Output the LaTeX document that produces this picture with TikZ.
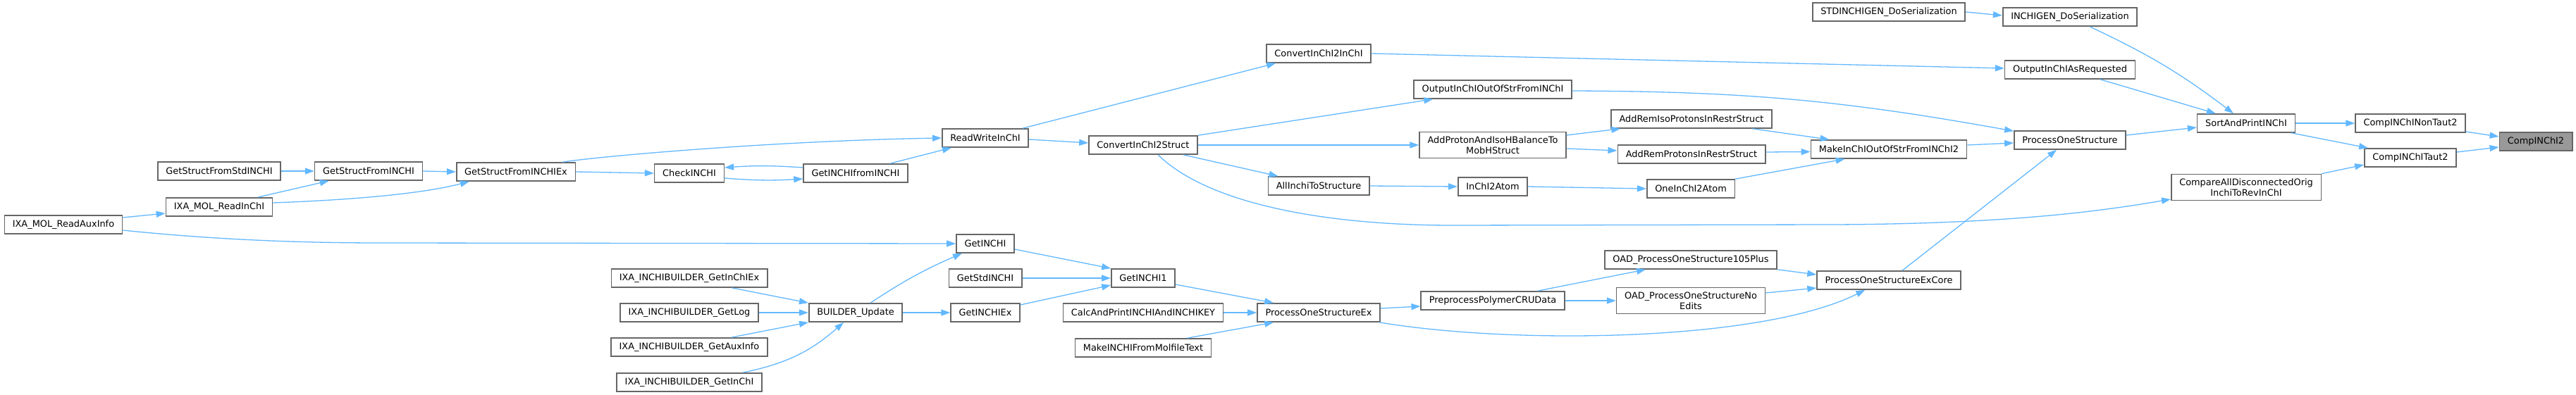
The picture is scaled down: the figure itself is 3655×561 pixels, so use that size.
\documentclass[tikz,border=0pt]{standalone}
\usepackage{fontspec}
\setmainfont{DejaVu Sans}
\usetikzlibrary{arrows.meta}
\definecolor{lienbleu}{HTML}{63B8FF}
\definecolor{bordgris}{HTML}{666666}
\definecolor{fondgris}{HTML}{999999}
\begin{document}
\begin{tikzpicture}  % ------ Graphe des appelants de CompINChI2 --------
      [x=1pt,y=-1pt,
       fonc/.style={draw=bordgris, line width=1.6pt, fill=white, inner xsep=11.5pt, inner ysep=6pt,
                    minimum height=26pt, align=center, font=\fontsize{12.9}{15}\selectfont},
       foncgris/.style={fonc, fill=fondgris},
       appel/.style={draw=lienbleu, line width=1.3pt, -{Triangle[length=13pt,width=9pt]}}]

    \useasboundingbox (0,0) rectangle (3655,561);

    % colonnes de gauche
    \node[fonc] (aux)    at (90,319)   {IXA\_MOL\_ReadAuxInfo};
    \node[fonc] (sstd)   at (311,243)  {GetStructFromStdINCHI};
    \node[fonc] (rin)    at (311,294)  {IXA\_MOL\_ReadInChI};
    \node[fonc] (sinchi) at (523,243)  {GetStructFromINCHI};
    \node[fonc] (ex)     at (732,244)  {GetStructFromINCHIEx};
    \node[fonc] (check)  at (978,246)  {CheckINCHI};
    \node[fonc] (bex)    at (978,395)  {IXA\_INCHIBUILDER\_GetInChIEx};
    \node[fonc] (blog)   at (978,444)  {IXA\_INCHIBUILDER\_GetLog};
    \node[fonc] (baux)   at (978,493)  {IXA\_INCHIBUILDER\_GetAuxInfo};
    \node[fonc] (bin)    at (978,543)  {IXA\_INCHIBUILDER\_GetInChI};
    \node[fonc] (gif)    at (1214,246) {GetINCHIfromINCHI};
    \node[fonc] (bu)     at (1214,444) {BUILDER\_Update};
    \node[fonc] (rw)     at (1398,196) {ReadWriteInChI};
    \node[fonc] (getinchi) at (1398,346) {GetINCHI};
    \node[fonc] (gstd)   at (1398,395) {GetStdINCHI};
    \node[fonc] (gex)    at (1398,444) {GetINCHIEx};
    \node[fonc] (cis)    at (1622,206) {ConvertInChI2Struct};
    \node[fonc] (g1)     at (1622,395) {GetINCHI1};
    \node[fonc] (calc)   at (1622,444) {CalcAndPrintINCHIAndINCHIKEY};
    \node[fonc] (mk)     at (1622,494) {MakeINCHIFromMolfileText};

    % colonnes du milieu
    \node[fonc] (c2i)      at (1871,76)  {ConvertInChI2InChI};
    \node[fonc] (allinchi) at (1871,264) {AllInchiToStructure};
    \node[fonc] (exex)     at (1871,444) {ProcessOneStructureEx};
    \node[fonc] (outstr)   at (2118,127) {OutputInChIOutOfStrFromINChI};
    \node[fonc] (addp)     at (2118,206) {AddProtonAndIsoHBalanceTo\\MobHStruct};
    \node[fonc] (i2a)      at (2118,265) {InChI2Atom};
    \node[fonc] (pre)      at (2118,427) {PreprocessPolymerCRUData};
    \node[fonc] (iso)      at (2400,169) {AddRemIsoProtonsInRestrStruct};
    \node[fonc] (rem)      at (2400,219) {AddRemProtonsInRestrStruct};
    \node[fonc] (one)      at (2399,268) {OneInChI2Atom};
    \node[fonc] (oad105)   at (2399,369) {OAD\_ProcessOneStructure105Plus};
    \node[fonc] (noed)     at (2399,427) {OAD\_ProcessOneStructureNo\\Edits};

    % colonnes de droite
    \node[fonc] (stdgen)   at (2680,17)  {STDINCHIGEN\_DoSerialization};
    \node[fonc] (makeb)    at (2680,212) {MakeInChIOutOfStrFromINChI2};
    \node[fonc] (excore)   at (2680,398) {ProcessOneStructureExCore};
    \node[fonc] (inchigen) at (2937,24)  {INCHIGEN\_DoSerialization};
    \node[fonc] (outreq)   at (2937,99)  {OutputInChIAsRequested};
    \node[fonc] (pos)      at (2937,199) {ProcessOneStructure};
    \node[fonc] (sort)     at (3187,175) {SortAndPrintINChI};
    \node[fonc] (cmp)      at (3187,266) {CompareAllDisconnectedOrig\\InchiToRevInChI};
    \node[fonc] (nontaut)  at (3420,175) {CompINChINonTaut2};
    \node[fonc] (taut)     at (3420,224) {CompINChITaut2};
    \node[foncgris] (comp) at (3598,201) {CompINChI2};

    % appels, partie gauche
    \draw[appel] ([yshift=10pt]aux.east) -- ([yshift=-9pt]rin.west);
    \draw[appel] ([yshift=-8pt]aux.east) .. controls (300,340) and (420,345) .. (540,345) -- (getinchi.west);
    \draw[appel] (sstd.east) -- (sinchi.west);
    \draw[appel] ([xshift=-22pt]rin.north east) -- ([xshift=21pt]sinchi.south west);
    \draw[appel] ([yshift=6pt]rin.east) .. controls (500,284) and (600,275) .. ([xshift=19pt]ex.south west);
    \draw[appel] (sinchi.east) -- (ex.west);
    \draw[appel] (ex.east) -- (check.west);
    \draw[appel] ([xshift=-19pt]ex.north east) .. controls (850,222) and (1100,200) .. (rw.west);
    \draw[appel] ([yshift=-7pt]check.east) to[bend right=4] ([yshift=-8pt]gif.west);
    \draw[appel] ([yshift=8pt]gif.west) to[bend right=4] ([yshift=8pt]check.east);
    \draw[appel] ([xshift=-26pt]gif.north east) -- ([xshift=14pt]rw.south west);
    \draw[appel] ([xshift=-51pt]bex.south east) -- (bu.north west);
    \draw[appel] (blog.east) -- (bu.west);
    \draw[appel] ([xshift=-52pt]baux.north east) -- (bu.south west);
    \draw[appel] ([xshift=-28pt]bin.north east) to[bend right=15] ([xshift=50pt]bu.south west);
    \draw[appel] ([xshift=21pt]bu.north) to[bend left=5] ([xshift=-33pt]getinchi.south);
    \draw[appel] (bu.east) -- (gex.west);
    \draw[appel] ([yshift=-8pt]getinchi.east) -- (g1.north west);
    \draw[appel] (gstd.east) -- (g1.west);
    \draw[appel] ([yshift=11pt]gex.east) -- ([yshift=-10pt]g1.west);
    \draw[appel] ([yshift=-2pt]rw.east) -- ([yshift=3pt]cis.west);
    \draw[appel] ([xshift=-9pt]rw.north east) -- ([xshift=14pt]c2i.south west);

    % appels, partie milieu
    \draw[appel] (cis.north east) -- ([xshift=28pt]outstr.south west);
    \draw[appel] (cis.east) -- (addp.west);
    \draw[appel] ([xshift=-21pt]cis.south east) -- ([xshift=15pt]allinchi.north west);
    \draw[appel] ([xshift=21pt]cis.south) .. controls (1720,295) and (1900,320) .. (2060,320)
                 -- (2600,319) .. controls (2850,318) and (2980,300) .. ([yshift=-17pt]cmp.west);
    \draw[appel] ([yshift=-9pt]g1.east) -- ([xshift=24pt]exex.north west);
    \draw[appel] (calc.east) -- (exex.west);
    \draw[appel] ([xshift=-35pt]mk.north east) -- ([xshift=24pt]exex.south west);
    \draw[appel] ([yshift=6pt]exex.east) -- ([yshift=-8pt]pre.west);
    \draw[appel] ([xshift=-2pt]exex.south east) .. controls (2150,490) and (2500,485) .. ([xshift=69pt]excore.south west);
    \draw[appel] (allinchi.east) -- (i2a.west);
    \draw[appel] (i2a.east) -- (one.west);
    \draw[appel] ([yshift=14pt]addp.east) -- ([xshift=14pt]iso.south west);
    \draw[appel] ([yshift=-5pt]addp.east) -- ([yshift=5pt]rem.west);
    \draw[appel] ([xshift=-39pt]pre.north east) -- ([xshift=59pt]oad105.south west);
    \draw[appel] (pre.east) -- (noed.west);

    % appels, partie droite
    \draw[appel] ([xshift=-28pt]iso.south east) -- ([xshift=27pt]makeb.north west);
    \draw[appel] ([yshift=3pt]rem.east) -- ([yshift=-3.5pt]makeb.west);
    \draw[appel] (one.north east) -- ([xshift=49pt]makeb.south west);
    \draw[appel] (oad105.south east) -- ([yshift=8pt]excore.west);
    \draw[appel] ([yshift=11pt]noed.east) -- ([yshift=-11pt]excore.west);
    \draw[appel] (stdgen.east) -- ([yshift=2pt]inchigen.west);
    \draw[appel] (c2i.east) -- ([yshift=2pt]outreq.west);
    \draw[appel] ([yshift=-2pt]outstr.east) to[bend left=5] ([yshift=-1pt]pos.north west);
    \draw[appel] ([yshift=6pt]makeb.east) -- ([yshift=-4pt]pos.west);
    \draw[appel] ([xshift=19pt]excore.north) -- ([xshift=-19pt]pos.south);
    \draw[appel] ([xshift=28pt]inchigen.south) to[bend left=6] ([xshift=-18pt]sort.north);
    \draw[appel] ([xshift=43pt]outreq.south) -- ([xshift=27pt]sort.north west);
    \draw[appel] ([yshift=7pt]pos.east) -- ([yshift=-6pt]sort.west);
    \draw[appel] (sort.east) -- (nontaut.west);
    \draw[appel] ([xshift=-6pt]sort.south east) -- ([xshift=6pt]taut.north west);
    \draw[appel] (cmp.north east) -- ([yshift=-10pt]taut.west);
    \draw[appel] ([yshift=-12pt]nontaut.east) -- ([yshift=7pt]comp.west);
    \draw[appel] ([yshift=8pt]taut.east) -- ([yshift=-8pt]comp.west);
\end{tikzpicture}
\end{document}
